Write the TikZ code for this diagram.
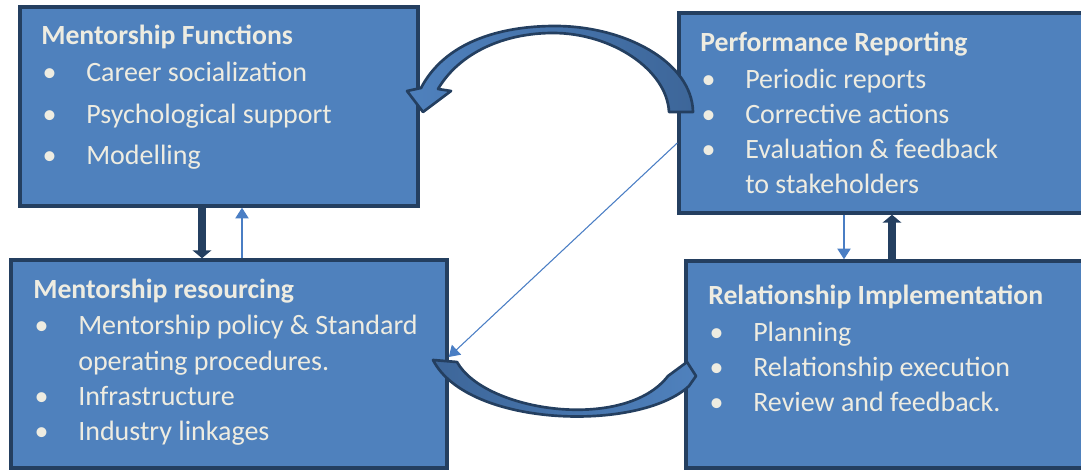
\documentclass[tikz,border=0pt]{standalone}
\usepackage{fontspec}
\setmainfont{Carlito}
\usepackage{tikz}
\usetikzlibrary{arrows.meta}
\usetikzlibrary{shapes}

\definecolor{boxblue}{HTML}{4F81BD}
\definecolor{boxline}{HTML}{243F60}
\definecolor{bandblue}{HTML}{3D6699}
\definecolor{textcream}{HTML}{EEECE1}
\definecolor{linkblue}{HTML}{4A7EC4}

% bullet and empty indent in front of a line
\newcommand{\itm}{\makebox[33.75pt][l]{\hspace{1pt}\textbullet}}
\newcommand{\noitm}{\makebox[33.75pt]{}}
\newcommand{\hd}[1]{{\fontsize{20.8}{22}\bfseries #1}}

\begin{document}
\begin{tikzpicture}[x=0.75pt,y=-0.75pt]
\tikzstyle{block}=[rectangle, draw=boxline, fill=boxblue, line width=2.6pt]
\tikzstyle{blocktext}=[anchor=base west, inner sep=0pt, text=textcream]
\tikzstyle{boldlink}=[draw=boxline, line width=6pt, -{Triangle[width=14pt,length=6pt]}]
\tikzstyle{finelink}=[draw=linkblue, line width=0.8pt, -{Triangle[width=10pt,length=8pt]}]
\tikzstyle{bandarrow}=[draw=boxline, line width=2pt, line join=round]

\useasboundingbox (0,0) rectangle (1081,470);

\node[block, minimum width=298.5pt, minimum height=149.25pt] (func) at (219,106.5) {};
\node[block, minimum width=327pt, minimum height=156pt] (res) at (229,364) {};
\node[block, minimum width=308.25pt, minimum height=150pt] (perf) at (884.5,113) {};
\node[block, minimum width=303pt, minimum height=155.25pt] (impl) at (888,364.5) {};

\node[blocktext] (functxt) at (41,45) {\fontsize{21}{31.1}\selectfont
  \begin{tabular}[t]{@{}l@{}}
  \hd{Mentorship Functions}\\[-3.35pt]
  \itm Career socialization\\
  \itm Psychological support\\
  \itm Modelling
  \end{tabular}};
\node[blocktext] (perftxt) at (700,52) {\fontsize{21}{26.25}\selectfont
  \begin{tabular}[t]{@{}l@{}}
  \hd{Performance Reporting}\\[1.5pt]
  \itm Periodic reports\\
  \itm Corrective actions\\
  \itm Evaluation \& feedback\\
  \noitm to stakeholders
  \end{tabular}};
\node[blocktext] (restxt) at (33,298) {\fontsize{21}{26.25}\selectfont
  \begin{tabular}[t]{@{}l@{}}
  \hd{Mentorship resourcing}\\[1.5pt]
  \itm Mentorship policy \& Standard\\
  \noitm operating procedures.\\
  \itm Infrastructure\\
  \itm Industry linkages
  \end{tabular}};
\node[blocktext] (impltxt) at (708,305) {\fontsize{21}{26.25}\selectfont
  \begin{tabular}[t]{@{}l@{}}
  \hd{Relationship Implementation}\\[1.5pt]
  \itm Planning\\
  \itm Relationship execution\\
  \itm Review and feedback.
  \end{tabular}};

% straight links between the boxes
\draw[boldlink] ([shift={(-17,0)}]func.south) -- ([shift={(-27,0)}]res.north);
\draw[finelink] ([shift={(13,0)}]res.north) -- ([shift={(23,0)}]func.south);
\draw[finelink] ([shift={(-40.5,0)}]perf.south) -- ([shift={(-44,0)}]impl.north);
\draw[boldlink] ([shift={(4,0)}]impl.north) -- ([shift={(7.5,0)}]perf.south);
\draw[finelink] ([shift={(0,30)}]perf.west) -- ([shift={(0,-7)}]res.east);

% curved block arrow on top
\shadedraw[bandarrow, left color=boxblue, right color=bandblue]
  (421,88) .. controls (445,42) and (500,26) .. (555,26)
  .. controls (625,26) and (692,62) .. (693,112)
  -- (669,112)
  .. controls (667,70) and (612,33) .. (553,33)
  .. controls (505,33) and (460,52) .. (438,89)
  -- (451,91) -- (423,112) -- (407,91) -- cycle;

% curved block arrow at the bottom
\shadedraw[bandarrow, left color=bandblue, right color=boxblue]
  (433,360) -- (457,362)
  .. controls (485,412) and (625,432) .. (668,376)
  -- (687,362) -- (696,376) -- (689,386)
  .. controls (640,432) and (468,428) .. (433,360) -- cycle;
\end{tikzpicture}
\end{document}
